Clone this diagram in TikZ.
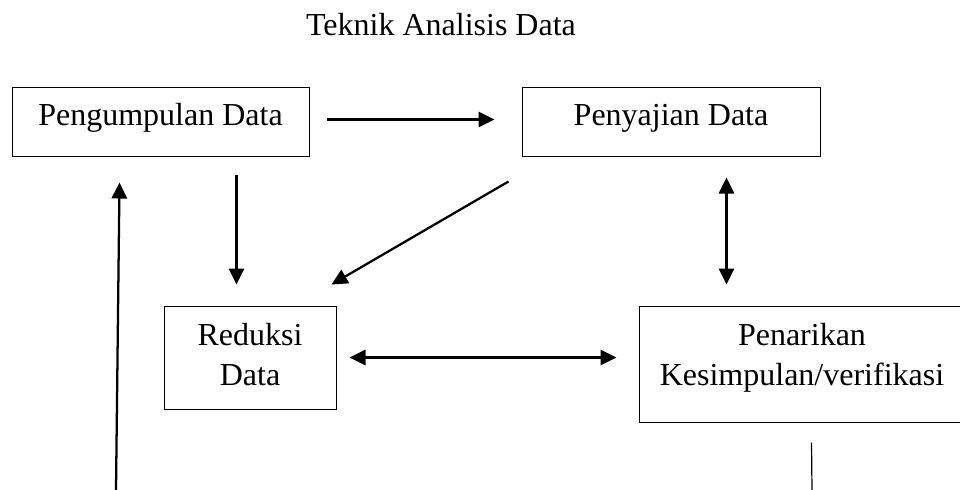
\documentclass[tikz,border=0pt]{standalone}
\usepackage{fontspec}
\setmainfont{Liberation Serif}
\usetikzlibrary{arrows.meta,calc}
\tikzset{
  txt/.style={font=\fontsize{24pt}{30pt}\selectfont, inner sep=0pt},
  boxnode/.style={draw, line width=0.75pt, txt, align=center, text height=12pt, text depth=6.75pt},
  arr/.style={line width=1.7pt, -{Triangle[length=12pt,width=11.5pt]}},
  darr/.style={line width=1.7pt, {Triangle[length=12pt,width=11.5pt]}-{Triangle[length=12pt,width=11.5pt]}},
  thin line/.style={line width=0.9pt}
}
\begin{document}
\begin{tikzpicture}[x=0.75pt,y=-0.75pt]
\useasboundingbox (0,0) rectangle (960,489);
\node[txt, anchor=base] (title) at (441,36) {Teknik Analisis Data};
\node[boxnode, minimum width=222.75pt, minimum height=51.75pt] (p1) at (160.5,121.5) {Pengumpulan Data};
\node[boxnode, minimum width=223.5pt, minimum height=51.75pt] (p2) at (671,121.5) {Penyajian Data};
\node[draw, line width=0.75pt, minimum width=129pt, minimum height=77.25pt] (p3) at (250,357.5) {};
\node[txt, align=center, anchor=base] (p3t) at (250,385) {Reduksi\\Data};
\node[draw, line width=0.75pt, minimum width=244.5pt, minimum height=87pt] (p4) at (802,364) {};
\node[txt, align=center, anchor=base] (p4t) at (802,385) {Penarikan\\Kesimpulan/verifikasi};
\coordinate (b1) at (116,490);
\coordinate (b2) at (812,490);
% arrows
\draw[arr] ($(p1.east)+(17,-2)$) -- ($(p2.west)+(-27,-2)$);
\draw[arr] ($(p1.south west)+(225,18)$) -- ($(p3.north west)+(73,-21)$);
\draw[arr] ($(p2.south west)+(-13,25)$) -- ($(p3.north east)+(-5,-21)$);
\draw[darr] ($(p2.south west)+(205,21)$) -- ($(p4.north west)+(88,-21)$);
\draw[darr] ($(p3.east)+(13,0)$) -- ($(p3.east -| p4.west)+(-22,0)$);
\draw[arr] (b1) -- ($(p1.south west)+(108,26)$);
\draw[thin line] ($(p4.south west)+(173,20)$) -- (b2);
\end{tikzpicture}
\end{document}
